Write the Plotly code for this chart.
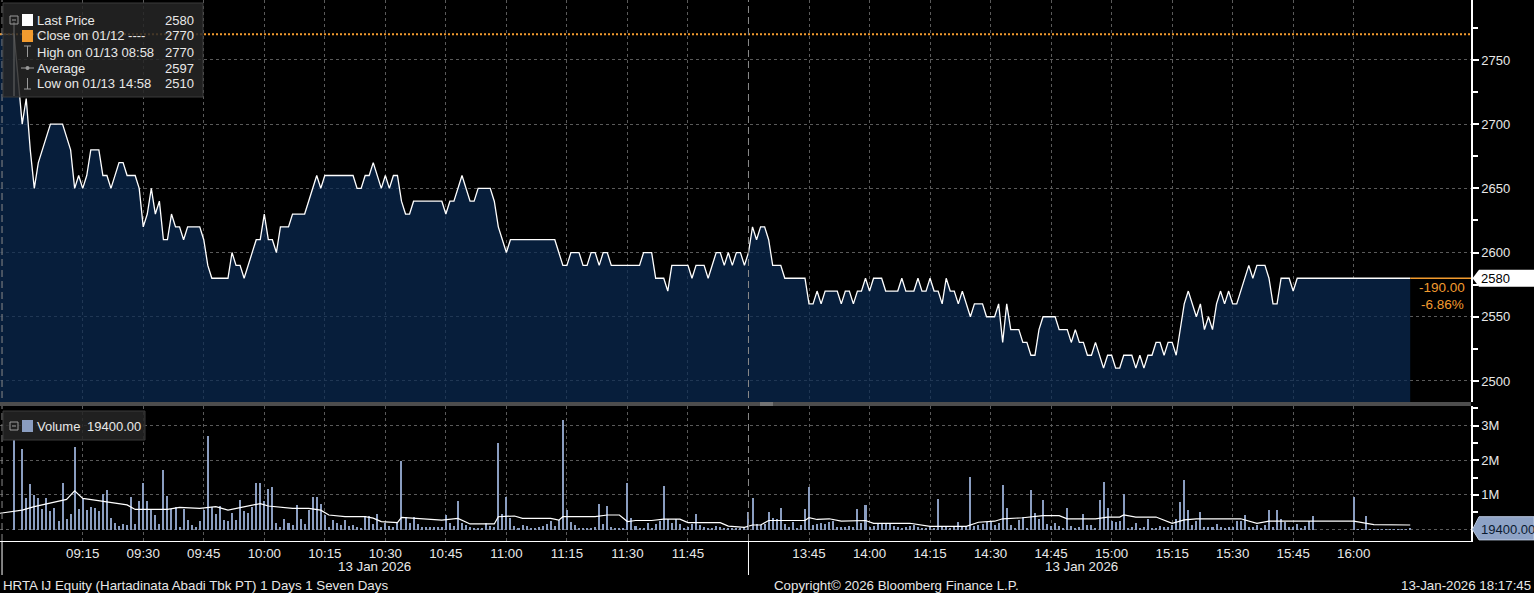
import pandas as pd
import plotly.graph_objects as go
from plotly.subplots import make_subplots

DAY = "2026-01-13"

# --- price: vertices of the 1-min close line ---
# session 1, minutes after 09:00 (negative = pre-open)
s1_min = [-5.5, -2, 0, 1, 2, 3, 4, 5, 6, 7, 10,
          12, 13, 14, 15, 16, 17, 19, 20, 21, 22,
          24, 25, 26, 28, 29, 30, 31, 32, 33, 34,
          35, 36, 37, 38, 39, 40, 41, 44, 45, 46,
          47, 51, 52, 53, 54, 55, 57, 58, 59, 60,
          61, 62, 63, 64, 66, 67, 70, 73, 74, 75,
          82, 83, 84, 85, 86, 87, 89, 90, 91, 92,
          93, 94, 95, 96, 97, 104, 105, 106, 107, 109,
          111, 112, 113, 116, 117, 118, 120, 121, 132, 133,
          134, 135, 136, 138, 139, 140, 141, 142, 143, 144,
          145, 146, 153, 154, 156, 157, 159, 160, 161, 165,
          166, 167, 169, 170, 171, 172, 173, 174, 175, 176,
          177, 178, 179]
s1_px = [2770, 2770, 2700, 2720, 2680, 2650, 2670, 2680, 2690, 2700, 2700,
         2680, 2650, 2660, 2650, 2660, 2680, 2680, 2660, 2660, 2650,
         2670, 2670, 2660, 2660, 2650, 2620, 2630, 2650, 2630, 2640,
         2610, 2610, 2630, 2620, 2620, 2610, 2620, 2620, 2610, 2590,
         2580, 2580, 2600, 2590, 2590, 2580, 2600, 2610, 2610, 2630,
         2610, 2610, 2600, 2620, 2620, 2630, 2630, 2660, 2650, 2660,
         2660, 2650, 2650, 2660, 2660, 2670, 2650, 2660, 2650, 2660,
         2660, 2640, 2630, 2630, 2640, 2640, 2630, 2640, 2640, 2660,
         2640, 2640, 2650, 2650, 2640, 2620, 2600, 2610, 2610, 2600,
         2590, 2590, 2600, 2600, 2590, 2590, 2600, 2600, 2590, 2600,
         2600, 2590, 2590, 2600, 2600, 2580, 2580, 2570, 2590, 2590,
         2580, 2590, 2590, 2580, 2590, 2600, 2600, 2590, 2600, 2590,
         2600, 2600, 2590]

# session 2, minutes after 13:30
s2_min = [0, 1, 2, 3, 4, 5, 6, 8, 9, 14,
          15, 16, 17, 18, 19, 22, 23, 24, 25, 26,
          27, 28, 29, 30, 31, 33, 34, 37, 38, 39,
          41, 42, 43, 44, 45, 46, 47, 48, 49, 50,
          51, 52, 53, 55, 56, 58, 59, 61, 62, 63,
          64, 65, 67, 68, 69, 70, 71, 72, 73, 76,
          77, 79, 80, 81, 82, 83, 84, 85, 86, 88,
          89, 90, 91, 92, 93, 95, 96, 97, 98, 99,
          100, 101, 102, 103, 104, 105, 106, 108, 109, 111,
          112, 113, 114, 115, 116, 117, 118, 119, 120, 121,
          122, 124, 125, 126, 128, 129, 130, 131, 132, 134,
          135, 136, 164]
s2_px = [2600, 2620, 2610, 2620, 2620, 2610, 2590, 2590, 2580, 2580,
         2560, 2560, 2570, 2560, 2570, 2570, 2560, 2570, 2570, 2560,
         2570, 2570, 2580, 2570, 2580, 2580, 2570, 2570, 2580, 2570,
         2570, 2580, 2570, 2570, 2580, 2570, 2570, 2560, 2580, 2570,
         2570, 2560, 2570, 2550, 2560, 2560, 2550, 2550, 2560, 2530,
         2560, 2540, 2540, 2530, 2530, 2520, 2520, 2540, 2550, 2550,
         2540, 2540, 2530, 2540, 2530, 2530, 2520, 2520, 2530, 2510,
         2520, 2520, 2510, 2510, 2520, 2520, 2510, 2520, 2510, 2520,
         2520, 2530, 2530, 2520, 2530, 2530, 2520, 2560, 2570, 2550,
         2560, 2540, 2550, 2540, 2560, 2570, 2560, 2570, 2560, 2560,
         2570, 2590, 2580, 2590, 2590, 2580, 2560, 2560, 2580, 2580,
         2570, 2580, 2580]

# --- volume, millions per 1-min bar ---
pre_open_vol = 2.6  # 08:58
vol_s1 = [2.32, 0.9, 1.31, 1.01, 0.9, 0.59, 0.92, 0.53, 0.61, 0.25,
          1.35, 0.3, 0.45, 2.39, 0.59, 0.87, 0.56, 0.64, 0.61, 0.53,
          1.02, 1.14, 0.32, 0.19, 0.1, 0.16, 0.13, 0.95, 0.16, 0.83,
          1.33, 0.83, 0.56, 0.42, 0.16, 1.72, 0.97, 0.59, 0.64, 0.08,
          0.59, 0.27, 0.13, 0.08, 0.24, 0.56, 2.7, 0.66, 0.46, 0.67,
          0.27, 0.25, 0.49, 0.27, 0.85, 0.53, 0.49, 0.66, 1.35, 1.35,
          0.82, 1.17, 1.22, 0.2, 0.08, 0.3, 0.2, 0.12, 0.72, 0.3,
          0.16, 0.56, 0.93, 0.93, 0.73, 0.42, 0.08, 0.27, 0.2, 0.14,
          0.27, 0.1, 0.13, 0.08, 0.03, 0.39, 0.39, 0.16, 0.46, 0.08,
          0.2, 0.1, 0.08, 0.18, 1.99, 0.35, 0.2, 0.35, 0.16, 0.08,
          0.06, 0.06, 0.06, 0.08, 0.06, 0.42, 0.2, 0.11, 0.82, 0.18,
          0.13, 0.08, 0.05, 0.04, 0.04, 0.2, 0.11, 0.08, 2.51, 0.45,
          0.95, 0.32, 0.1, 0.05, 0.13, 0.1, 0.05, 0.05, 0.08, 0.11,
          0.16, 0.26, 0.11, 0.27, 3.16, 0.56, 0.23, 0.13, 0.05, 0.05,
          0.05, 0.05, 0.08, 0.74, 0.16, 0.68, 0.08, 0.05, 0.05, 0.05,
          1.35, 0.34, 0.1, 0.05, 0.05, 0.18, 0.05, 0.16, 0.26, 1.26,
          0.3, 0.2, 0.3, 0.16, 0.05, 0.08, 0.16, 0.45, 0.13, 0.08,
          0.05, 0.05, 0.1, 0.08, 0.05, 0.05, 0.05, 0.05, 0.05, 0.08]
vol_s2 = [0.52, 0.9, 0.16, 0.13, 0.16, 0.52, 0.34, 0.31, 0.63, 0.16,
          0.07, 0.23, 0.02, 0.12, 0.58, 1.24, 0.12, 0.16, 0.19, 0.16,
          0.21, 0.24, 0.07, 0.07, 0.07, 0.09, 0.07, 0.6, 0.19, 0.71,
          0.07, 0.09, 0.16, 0.16, 0.16, 0.16, 0.09, 0.07, 0.04, 0.07,
          0.09, 0.12, 0.07, 0.04, 0.04, 0.07, 0.04, 0.87, 0.07, 0.09,
          0.04, 0.07, 0.23, 0.07, 0.09, 1.53, 0.09, 0.12, 0.16, 0.23,
          0.21, 0.12, 0.19, 1.3, 0.63, 0.12, 0.04, 0.28, 0.36, 0.04,
          1.13, 0.48, 0.31, 0.84, 0.16, 0.09, 0.19, 0.09, 0.04, 0.63,
          0.09, 0.04, 0.07, 0.45, 0.14, 0.14, 0.04, 0.84, 1.38, 0.63,
          0.26, 0.21, 0.24, 1.03, 0.04, 0.07, 0.19, 0.04, 0.07, 0.31,
          0.04, 0.04, 0.09, 0.07, 0.07, 0.14, 0.31, 0.79, 1.44, 0.55,
          0.14, 0.24, 0.5, 0.07, 0.07, 0.07, 0.16, 0.07, 0.04, 0.07,
          0.07, 0.26, 0.24, 0.43, 0.07, 0.07, 0.12, 0.04, 0.12, 0.55,
          0.07, 0.55, 0.31, 0.21, 0.07, 0.07, 0.16, 0.04, 0.09, 0.26,
          0.38, 0, 0, 0, 0, 0, 0, 0, 0, 0,
          0.95, 0.01, 0.01, 0.4, 0.01, 0.01, 0.01, 0.01, 0.01, 0.01,
          0.01, 0.01, 0.01, 0.01, 0.0194]

# volume average line (white), vertices
avg_s1_min = [-5.5, 0, 3, 8, 11, 13, 15, 18, 22, 26, 28, 36, 39, 44, 48, 51, 54, 59,
              61, 64, 67, 71, 74, 76, 80, 85, 87, 89, 93, 94, 99, 104, 108, 111,
              117, 118, 122, 124, 131, 133, 134, 142, 145, 148, 150, 152, 156,
              159, 163, 165, 173, 175, 179]
avg_s1_val = [0.47, 0.56, 0.66, 0.8, 0.87, 1.12, 0.9, 0.85, 0.78, 0.71, 0.58, 0.58,
              0.64, 0.61, 0.66, 0.56, 0.63, 0.75, 0.68, 0.64, 0.61, 0.61, 0.56,
              0.42, 0.37, 0.37, 0.33, 0.23, 0.2, 0.35, 0.32, 0.27, 0.32, 0.16,
              0.16, 0.37, 0.39, 0.32, 0.32, 0.27, 0.37, 0.37, 0.42, 0.42, 0.23,
              0.26, 0.26, 0.3, 0.3, 0.2, 0.2, 0.1, 0.06]
avg_s2_min = [1, 3, 5, 14, 15, 17, 20, 23, 29, 31, 40, 45, 54, 57, 61, 63, 68, 73,
              77, 79, 86, 89, 92, 93, 96, 101, 105, 108, 111, 122, 126, 129, 150,
              155, 164]
avg_s2_val = [0.13, 0.13, 0.26, 0.26, 0.34, 0.29, 0.31, 0.24, 0.26, 0.18, 0.18,
              0.09, 0.09, 0.21, 0.24, 0.31, 0.34, 0.4, 0.4, 0.31, 0.31, 0.36,
              0.36, 0.42, 0.36, 0.36, 0.18, 0.28, 0.31, 0.31, 0.18, 0.24, 0.24,
              0.14, 0.13]

tick_times = ["09:15", "09:30", "09:45", "10:00", "10:15", "10:30", "10:45",
              "11:00", "11:15", "11:30", "11:45", "13:45", "14:00", "14:15",
              "14:30", "14:45", "15:00", "15:15", "15:30", "15:45", "16:00"]
price_ticks = [2500, 2550, 2600, 2650, 2700, 2750]
vol_ticks = [0, 1, 2, 3]
vol_tick_text = ["", "1M", "2M", "3M"]

prev_close = 2770
legend_rows = [("Last Price", "2580"), ("Close on 01/12 ----", "2770"),
               ("High on 01/13 08:58", "2770"), ("Average", "2597"),
               ("Low on 01/13 14:58", "2510")]
chg_text = ["-190.00", "-6.86%"]
last_vol_text = "19400.00"

# --- styling ---
FONT = "Liberation Sans, Arial, sans-serif"
GRID = "#5a5a5a"
ORANGE = "#f29b2f"
VOLBAR = "#8a9dc0"
TXT = "#e8e8e8"
W, H = 1534, 593
PW, PH = 1471, 541  # plot area in px


def px(x):
    return x / PW


def py(y):
    return (PH - y) / PH


def ts(base, minutes):
    return pd.Timestamp(f"{DAY} {base}") + pd.Timedelta(minutes=minutes)


price_x = [ts("09:00", m) for m in s1_min] + [ts("13:30", m) for m in s2_min]
price_y = s1_px + s2_px

vol_x = ([ts("08:58", 0)] + [ts("09:00", m) for m in range(len(vol_s1))]
         + [ts("13:30", m) for m in range(len(vol_s2))])
vol_y = [v * 1e6 for v in [pre_open_vol] + vol_s1 + vol_s2]

avg_x = [ts("09:00", m) for m in avg_s1_min] + [ts("13:30", m) for m in avg_s2_min]
avg_y = [v * 1e6 for v in avg_s1_val + avg_s2_val]

x_start = pd.Timestamp(f"{DAY} 08:54:30")
x_end = pd.Timestamp(f"{DAY} 16:29:04")

fig = make_subplots(rows=2, cols=1, shared_xaxes=True, vertical_spacing=0)

fig.add_trace(go.Scatter(
    x=price_x, y=price_y, mode="lines",
    line=dict(color="white", width=1.3),
    fill="tozeroy", fillcolor="rgba(10,42,82,0.72)",
    showlegend=False, hoverinfo="skip"), row=1, col=1)

fig.add_trace(go.Bar(
    x=vol_x, y=vol_y, width=30000, marker=dict(color=VOLBAR, line=dict(width=0)),
    showlegend=False, hoverinfo="skip"), row=2, col=1)

fig.add_trace(go.Scatter(
    x=avg_x, y=avg_y, mode="lines", line=dict(color="white", width=1.2),
    showlegend=False, hoverinfo="skip"), row=2, col=1)

# last price extension in orange to the axis
fig.add_trace(go.Scatter(
    x=[price_x[-1], x_end], y=[price_y[-1]] * 2, mode="lines",
    line=dict(color=ORANGE, width=1.3), showlegend=False, hoverinfo="skip"),
    row=1, col=1)

tick_vals = [pd.Timestamp(f"{DAY} {t}") for t in tick_times]
fig.update_xaxes(
    type="date", range=[x_start, x_end],
    rangebreaks=[dict(bounds=[f"{DAY} 12:00", f"{DAY} 13:30"])],
    tickvals=tick_vals, ticktext=tick_times,
    showgrid=True, gridcolor=GRID, griddash="dot", gridwidth=1,
    zeroline=False, ticks="",
    tickfont=dict(family=FONT, size=13.3, color=TXT))
fig.update_xaxes(showticklabels=False, row=1, col=1)
fig.update_xaxes(showline=True, linecolor="white", linewidth=1, row=2, col=1)

axis_common = dict(
    side="right", showline=True, linecolor="white", linewidth=1.5,
    ticks="outside", ticklen=6, tickwidth=2, tickcolor="white",
    showgrid=True, gridcolor=GRID, griddash="dot", gridwidth=1,
    zeroline=False, tickfont=dict(family=FONT, size=13, color=TXT))

fig.update_yaxes(
    range=[2483.6, 2796.7], domain=[py(402), 1], tickvals=price_ticks,
    minor=dict(tickvals=[t + 25 for t in price_ticks], ticks="outside",
               ticklen=5, tickcolor="white", showgrid=False),
    **axis_common, row=1, col=1)
fig.update_yaxes(
    range=[-0.332e6, 3.569e6], domain=[0, py(406)],
    tickvals=[v * 1e6 for v in vol_ticks], ticktext=vol_tick_text,
    minor=dict(tickvals=[(v + 0.5) * 1e6 for v in vol_ticks], ticks="outside",
               ticklen=5, tickcolor="white", showgrid=False),
    **axis_common, row=2, col=1)

shapes = []
# previous close, dotted orange
shapes.append(dict(type="line", xref="paper", yref="y", x0=0, x1=1,
                   y0=prev_close, y1=prev_close,
                   line=dict(color=ORANGE, width=2, dash="2px,2px")))
# session markers
for t in [f"{DAY} 08:55", f"{DAY} 13:30"]:
    shapes.append(dict(type="line", xref="x", yref="paper", x0=t, x1=t,
                       y0=0, y1=1, line=dict(color="#8a8a8a", width=1, dash="7px,4px")))
    shapes.append(dict(type="line", xref="x", yref="paper", x0=t, x1=t,
                       y0=py(575), y1=0, line=dict(color="white", width=1)))
# panel separator
shapes.append(dict(type="rect", xref="paper", yref="paper", x0=0, x1=1,
                   y0=py(406), y1=py(402), fillcolor="#4d4d4d", line=dict(width=0)))
for yy in (403, 405):
    shapes.append(dict(type="line", xref="paper", yref="paper", x0=px(760), x1=px(773),
                       y0=py(yy), y1=py(yy), line=dict(color="#9a9a9a", width=1)))

# legend boxes
shapes.append(dict(type="rect", xref="paper", yref="paper", x0=px(3), x1=px(203),
                   y0=py(97), y1=py(3), fillcolor="rgba(38,38,38,0.85)",
                   line=dict(color="#3a3a3a", width=1)))
shapes.append(dict(type="rect", xref="paper", yref="paper", x0=px(3), x1=px(145),
                   y0=py(440), y1=py(411), fillcolor="rgba(38,38,38,0.85)",
                   line=dict(color="#3a3a3a", width=1)))
ICON = "#9a9a9a"
# tree connector and expand icons
shapes.append(dict(type="line", xref="paper", yref="paper", x0=px(14), x1=px(14),
                   y0=py(96), y1=py(22), line=dict(color="#666666", width=1)))
for y0 in (16, 422):
    shapes.append(dict(type="rect", xref="paper", yref="paper", x0=px(10), x1=px(18),
                       y0=py(y0 + 8), y1=py(y0), line=dict(color=ICON, width=1)))
    shapes.append(dict(type="line", xref="paper", yref="paper", x0=px(12), x1=px(16),
                       y0=py(y0 + 4), y1=py(y0 + 4), line=dict(color=ICON, width=1)))
# color swatches
for (y0, col) in ((14, "white"), (30, ORANGE), (420, VOLBAR)):
    shapes.append(dict(type="rect", xref="paper", yref="paper", x0=px(22), x1=px(33),
                       y0=py(y0 + 12), y1=py(y0), fillcolor=col, line=dict(width=0)))
# high / average / low glyphs
glyph = dict(type="line", xref="paper", yref="paper", line=dict(color=ICON, width=1))
shapes += [
    dict(glyph, x0=px(27.5), x1=px(27.5), y0=py(57), y1=py(46)),
    dict(glyph, x0=px(24), x1=px(31), y0=py(46), y1=py(46)),
    dict(glyph, x0=px(21), x1=px(34), y0=py(68), y1=py(68)),
    dict(type="circle", xref="paper", yref="paper", x0=px(25.5), x1=px(29.5),
         y0=py(70), y1=py(66), fillcolor=ICON, line=dict(width=0)),
    dict(glyph, x0=px(27.5), x1=px(27.5), y0=py(89), y1=py(78)),
    dict(glyph, x0=px(24), x1=px(31), y0=py(89), y1=py(89)),
]

# right-hand value boxes
last = price_y[-1]
h = 6.6
x_tip, x_box, x_end_px = px(1472.5), px(1479), px(1534)
shapes.append(dict(type="path", xref="paper", yref="y",
                   path=(f"M {x_tip} {last} L {x_box} {last + h} L {x_end_px} {last + h} "
                         f"L {x_end_px} {last - h} L {x_box} {last - h} Z"),
                   fillcolor="white", line=dict(width=0)))
vt, vb = 0.37e6, -0.30e6
shapes.append(dict(type="path", xref="paper", yref="y2",
                   path=(f"M {x_tip} {0} L {x_box} {vt} L {x_end_px} {vt} "
                         f"L {x_end_px} {vb} L {x_box} {vb} Z"),
                   fillcolor="#8ea3c6", line=dict(color="#b8c6dd", width=1)))

ann = []


def text(x, y, s, anchor="left", color=TXT, size=13, xref="paper", yref="paper"):
    ann.append(dict(x=x, y=y, xref=xref, yref=yref, text=s, showarrow=False,
                    xanchor=anchor, yanchor="middle", borderpad=0,
                    font=dict(family=FONT, size=size, color=color)))


for i, (label, val) in enumerate(legend_rows):
    yc = 20 + i * 16
    text(px(36), py(yc), label)
    text(px(195), py(yc), val, anchor="right")
text(px(36), py(426), "Volume")
text(px(86), py(426), last_vol_text)

text(px(1480), last, f"{last}", color="black", xref="paper", yref="y")
text(px(1480), 0, last_vol_text, color="#0a1a30", xref="paper", yref="y2")
text(px(1442), py(287), chg_text[0], anchor="center", color=ORANGE, size=13.5)
text(px(1442), py(304), chg_text[1], anchor="center", color=ORANGE, size=13.5)

text(px(374), py(566), "13 Jan 2026", anchor="center", size=13.3)
text(px(1081), py(566), "13 Jan 2026", anchor="center", size=13.3)
text(px(2), py(585), "HRTA IJ Equity (Hartadinata Abadi Tbk PT) 1 Days 1 Seven Days", size=13.3)
text(px(773), py(585), "Copyright\u00a9 2026 Bloomberg Finance L.P.", size=13.3)
text(px(1532), py(585), "13-Jan-2026 18:17:45", anchor="right", size=13.3)

fig.update_layout(
    width=W, height=H,
    margin=dict(l=0, r=W - PW, t=0, b=H - PH),
    paper_bgcolor="black", plot_bgcolor="black",
    bargap=0, showlegend=False,
    shapes=shapes, annotations=ann,
    font=dict(family=FONT, size=13, color=TXT),
)

# the page has a default 8px body margin; drop it so the figure sits at 0,0
fig.write_html("out.html", config={"displayModeBar": False},
               post_script="document.body.style.margin='0';"
                           "document.body.style.background='black';"
                           "document.body.style.overflow='hidden';")
